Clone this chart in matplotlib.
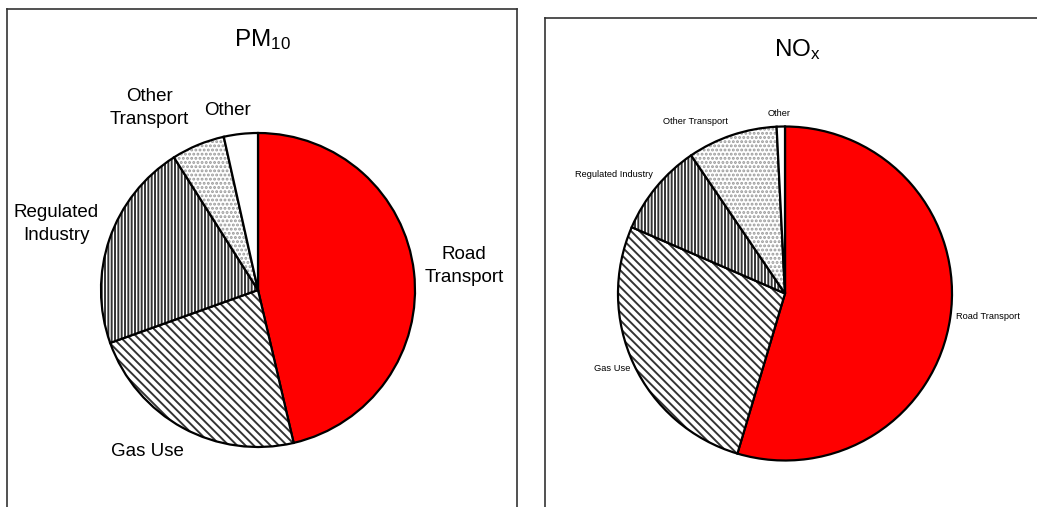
import numpy as np
import matplotlib
matplotlib.use("Agg")
import matplotlib.pyplot as plt
from matplotlib.colors import to_rgba

# ---- data ----
categories = ["Road Transport", "Gas Use", "Regulated Industry", "Other Transport", "Other"]
pm10_values = [46.4, 23.2, 21.5, 5.5, 3.5]
nox_values = [54.6, 26.9, 9.0, 8.7, 0.8]
pm10_labels = ["Road\nTransport", "Gas Use", "Regulated\nIndustry", "Other\nTransport", "Other"]
nox_labels = ["Road Transport", "Gas Use", "Regulated Industry", "Other Transport", "Other"]
pm10_title = r"PM$_{10}$"
nox_title = r"NO$_{\mathregular{x}}$"

# ---- style ----
slice_colors = ["#ff0000", "white", "white", "white", "white"]
slice_hatches = [None, "\\\\\\\\", "|||||", "....", None]
slice_hatch_colors = [None, "#333333", "#333333", "#9a9a9a", None]

plt.rcParams["font.family"] = ["Liberation Sans", "DejaVu Sans"]
plt.rcParams["mathtext.fontset"] = "custom"
plt.rcParams["mathtext.rm"] = "Liberation Sans"
plt.rcParams["mathtext.it"] = "Liberation Sans"
plt.rcParams["mathtext.default"] = "regular"
plt.rcParams["hatch.linewidth"] = 1.4
plt.rcParams["hatch.color"] = "#333333"

W, H = 1037, 507
fig = plt.figure(figsize=(W / 100, H / 100), dpi=100)


def make_panel(px0, px1, ptop, pbottom):
    ax = fig.add_axes([px0 / W, (H - pbottom) / H, (px1 - px0) / W, (pbottom - ptop) / H])
    ax.set_xlim(px0, px1)
    ax.set_ylim(H - pbottom, H - ptop)
    for s in ax.spines.values():
        s.set_linewidth(1.2)
        s.set_color("#333333")
    ax.set_xticks([])
    ax.set_yticks([])
    return ax


def draw_pie(ax, values, labels, center, radius, dists, offsets, fsize, lsp):
    wedges, _ = ax.pie(values, colors=slice_colors, hatch=slice_hatches,
                       startangle=90, counterclock=False, center=center,
                       radius=radius, frame=True,
                       wedgeprops=dict(edgecolor="black", linewidth=1.6))
    for w, hc in zip(wedges, slice_hatch_colors):
        if hc is not None:
            if hasattr(w, "set_hatchcolor"):
                w.set_hatchcolor(hc)
            else:
                w._hatch_color = to_rgba(hc)
    for w, lab, d, off in zip(wedges, labels, dists, offsets):
        ang = np.deg2rad((w.theta1 + w.theta2) / 2 - off)
        x = center[0] + d * radius * np.cos(ang)
        y = center[1] + d * radius * np.sin(ang)
        ax.text(x, y, lab, ha="center", va="center", fontsize=fsize,
                linespacing=lsp, color="black")


# left panel (PM10)
ax1 = make_panel(7, 517, 9, 520)
draw_pie(ax1, pm10_values, pm10_labels, (258, H - 290), 157,
         [1.32, 1.25, 1.35, 1.35, 1.16], [0, 5.8, -0.9, -8.3, -3.3], 13.5, 1.45)
ax1.set_xlim(7, 517)
ax1.set_ylim(H - 520, H - 9)
ax1.set_aspect("auto")
ax1.text(262, H - 40, pm10_title, ha="center", va="center", fontsize=17.5)

# right panel (NOx)
ax2 = make_panel(545, 1050, 18, 520)
draw_pie(ax2, nox_values, nox_labels, (785, H - 293.5), 167,
         [1.22, 1.13, 1.25, 1.16, 1.08], [-1.9, 1.5, -4.7, -8.9, -0.5], 6.7, 1.2)
ax2.set_xlim(545, 1050)
ax2.set_ylim(H - 520, H - 18)
ax2.set_aspect("auto")
ax2.text(797, H - 50, nox_title, ha="center", va="center", fontsize=17.5)

fig.savefig("out.png", dpi=100)
